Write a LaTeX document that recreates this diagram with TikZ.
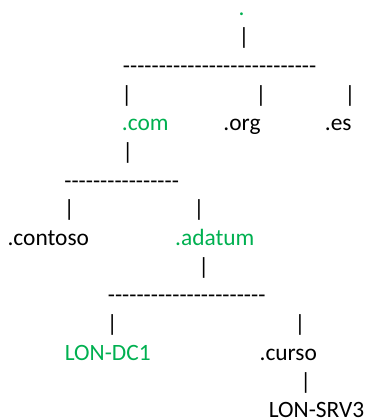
\documentclass[tikz,border=0pt]{standalone}
\usepackage{fontspec}
\newfontfamily\carlito{Carlito}
\definecolor{wordgreen}{HTML}{00B050}
\ExplSyntaxOn
\NewDocumentCommand\dashrun{m}{\prg_replicate:nn{#1}{-\kern0pt}}
\ExplSyntaxOff
\begin{document}
\begin{tikzpicture}[x=1bp,y=-1bp,
  lbl/.style={inner sep=0pt, anchor=base, font=\carlito\fontsize{23.4bp}{28bp}\selectfont},
  hi/.style={lbl, text=wordgreen}]
\useasboundingbox (0,0) rectangle (366,420);
% root
\node[hi]  (root)  at (241.7,15.9) {.};
\node[lbl] (b1)    at (244,44.6)   {|};
\node[lbl] (d1)    at (219.7,73.3) {\dashrun{27}};
\node[lbl] (b2a)   at (126.7,102)  {|};
\node[lbl] (b2b)   at (261,102)    {|};
\node[lbl] (b2c)   at (350,102)    {|};
% top-level domains
\node[hi]  (com)   at (145.3,130.7) {.com};
\node[lbl] (org)   at (242,130.7)   {.org};
\node[lbl] (es)    at (338.3,130.7) {.es};
\node[lbl] (b3)    at (127.7,159.4) {|};
\node[lbl] (d2)    at (121.7,188.1) {\dashrun{16}};
\node[lbl] (b4a)   at (69.3,216.8)  {|};
\node[lbl] (b4b)   at (199,216.8)   {|};
% second level
\node[lbl] (contoso) at (48.3,245.5)  {.contoso};
\node[hi]  (adatum)  at (214.8,245.5) {.adatum};
\node[lbl] (b5)    at (203.7,274.2) {|};
\node[lbl] (d3)    at (186.7,302.9) {\dashrun{22}};
\node[lbl] (b6a)   at (112.3,331.6) {|};
\node[lbl] (b6b)   at (300,331.6)   {|};
% hosts and subdomain
\node[hi]  (dc1)   at (107.8,360.3) {LON-DC1};
\node[lbl] (curso) at (288.3,360.3) {.curso};
\node[lbl] (b7)    at (305.7,389)   {|};
\node[lbl] (srv3)  at (316.5,417.7) {LON-SRV3};
\end{tikzpicture}
\end{document}
